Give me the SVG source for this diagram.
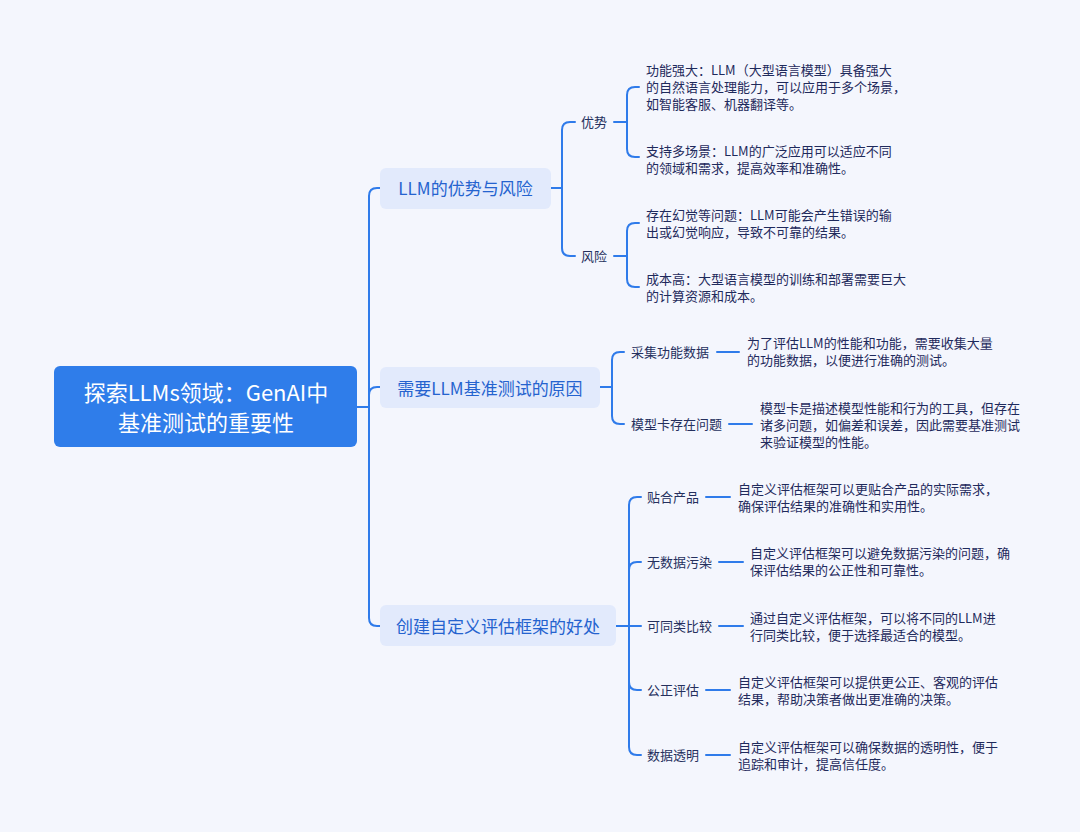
<svg xmlns="http://www.w3.org/2000/svg" width="1080" height="832" viewBox="0 0 1080 832">
<style>
text{font-family:"Noto Sans CJK SC","Noto Sans",sans-serif;dominant-baseline:central}
.root{fill:#ffffff;font-size:22px;text-anchor:middle}
.l1{fill:#2563CF;font-size:17px;text-anchor:middle}
.l2{fill:#25305E;font-size:13px}
.leaf{fill:#1F2A5C;font-size:13px}
.c{fill:none;stroke:#2F7BEA;stroke-width:2;stroke-linecap:round;stroke-linejoin:round}
.b1{fill:#E2EAFC}
</style>
<rect width="1080" height="832" fill="#F4F6FD"/>
<g id="connectors">
<path class="c" d="M357,407 H369"/>
<path class="c" d="M369,407 V196 Q369,188 377,188 H380"/>
<path class="c" d="M369,407 V395 Q369,387 377,387 H380"/>
<path class="c" d="M369,407 V618 Q369,626 377,626 H380"/>
<path class="c" d="M551,188 H562 V130 Q562,122 570,122 H575"/>
<path class="c" d="M562,188 V248 Q562,256 570,256 H575"/>
<path class="c" d="M614,122 H627 V95 Q627,87 635,87 H639"/>
<path class="c" d="M627,122 V149 Q627,157 635,157 H639"/>
<path class="c" d="M614,256 H627 V231 Q627,223 635,223 H639"/>
<path class="c" d="M627,256 V279 Q627,287 635,287 H639"/>
<path class="c" d="M600,387 H612 V360 Q612,352 620,352 H624"/>
<path class="c" d="M612,387 V416 Q612,424 620,424 H624"/>
<path class="c" d="M717,352 H739"/>
<path class="c" d="M729,424 H752"/>
<path class="c" d="M616,626 H641"/>
<path class="c" d="M629,626 V505 Q629,497 637,497 H641"/>
<path class="c" d="M629,626 V570 Q629,562 637,562 H641"/>
<path class="c" d="M629,626 V682 Q629,690 637,690 H641"/>
<path class="c" d="M629,626 V747 Q629,755 637,755 H641"/>
<path class="c" d="M706,497 H730"/>
<path class="c" d="M719,562 H743"/>
<path class="c" d="M719,626 H743"/>
<path class="c" d="M706,690 H730"/>
<path class="c" d="M706,755 H730"/>
</g>
<g id="root">
<rect x="54" y="366" width="303" height="81" rx="6" fill="#2F7DEA"/>
<text class="root" x="206" y="391">探索LLMs领域：GenAI中</text>
<text class="root" x="206" y="421">基准测试的重要性</text>
</g>
<g id="n1">
<rect class="b1" x="380" y="168" width="171" height="41" rx="6"/>
<text class="l1" x="465.5" y="187.5">LLM的优势与风险</text>
</g>
<g id="n1a"><text class="l2" x="581" y="121.5">优势</text></g>
<g id="n1a1">
<text class="leaf" x="646" y="69.5">功能强大：LLM（大型语言模型）具备强大</text>
<text class="leaf" x="646" y="86.5">的自然语言处理能力，可以应用于多个场景，</text>
<text class="leaf" x="646" y="103.5">如智能客服、机器翻译等。</text>
</g>
<g id="n1a2">
<text class="leaf" x="646" y="150.5">支持多场景：LLM的广泛应用可以适应不同</text>
<text class="leaf" x="646" y="167.5">的领域和需求，提高效率和准确性。</text>
</g>
<g id="n1b"><text class="l2" x="581" y="255.5">风险</text></g>
<g id="n1b1">
<text class="leaf" x="646" y="214.5">存在幻觉等问题：LLM可能会产生错误的输</text>
<text class="leaf" x="646" y="231.5">出或幻觉响应，导致不可靠的结果。</text>
</g>
<g id="n1b2">
<text class="leaf" x="646" y="278.5">成本高：大型语言模型的训练和部署需要巨大</text>
<text class="leaf" x="646" y="295.5">的计算资源和成本。</text>
</g>
<g id="n2">
<rect class="b1" x="380" y="367" width="220" height="41" rx="6"/>
<text class="l1" x="490" y="387">需要LLM基准测试的原因</text>
</g>
<g id="n2a"><text class="l2" x="631" y="351.5">采集功能数据</text></g>
<g id="n2a1">
<text class="leaf" x="747" y="342.5">为了评估LLM的性能和功能，需要收集大量</text>
<text class="leaf" x="747" y="359.5">的功能数据，以便进行准确的测试。</text>
</g>
<g id="n2b"><text class="l2" x="631" y="423.5">模型卡存在问题</text></g>
<g id="n2b1">
<text class="leaf" x="760" y="407.5">模型卡是描述模型性能和行为的工具，但存在</text>
<text class="leaf" x="760" y="424.5">诸多问题，如偏差和误差，因此需要基准测试</text>
<text class="leaf" x="760" y="441.5">来验证模型的性能。</text>
</g>
<g id="n3">
<rect class="b1" x="380" y="605" width="236" height="41" rx="6"/>
<text class="l1" x="498" y="625.5">创建自定义评估框架的好处</text>
</g>
<g id="n3a"><text class="l2" x="647" y="496.5">贴合产品</text></g>
<g id="n3a1">
<text class="leaf" x="738" y="488.5">自定义评估框架可以更贴合产品的实际需求，</text>
<text class="leaf" x="738" y="505.5">确保评估结果的准确性和实用性。</text>
</g>
<g id="n3b"><text class="l2" x="647" y="561.5">无数据污染</text></g>
<g id="n3b1">
<text class="leaf" x="750" y="552.5">自定义评估框架可以避免数据污染的问题，确</text>
<text class="leaf" x="750" y="569.5">保评估结果的公正性和可靠性。</text>
</g>
<g id="n3c"><text class="l2" x="647" y="625.5">可同类比较</text></g>
<g id="n3c1">
<text class="leaf" x="750" y="617.5">通过自定义评估框架，可以将不同的LLM进</text>
<text class="leaf" x="750" y="634.5">行同类比较，便于选择最适合的模型。</text>
</g>
<g id="n3d"><text class="l2" x="647" y="689.5">公正评估</text></g>
<g id="n3d1">
<text class="leaf" x="738" y="681.5">自定义评估框架可以提供更公正、客观的评估</text>
<text class="leaf" x="738" y="698.5">结果，帮助决策者做出更准确的决策。</text>
</g>
<g id="n3e"><text class="l2" x="647" y="754.5">数据透明</text></g>
<g id="n3e1">
<text class="leaf" x="738" y="746.5">自定义评估框架可以确保数据的透明性，便于</text>
<text class="leaf" x="738" y="763.5">追踪和审计，提高信任度。</text>
</g>
</svg>
